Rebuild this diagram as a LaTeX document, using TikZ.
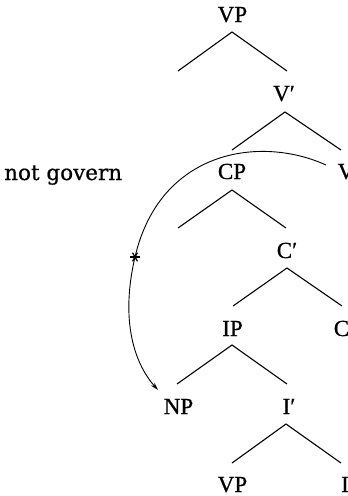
\documentclass[tikz,border=0pt]{standalone}
\usepackage{fontspec}
\setmainfont{Liberation Serif}
\newfontface\lblfont{Liberation Serif}[RawFeature={embolden=0.7}]
\newfontface\dvserif{DejaVu Serif}[RawFeature={embolden=0.6}]
\usetikzlibrary{arrows.meta,calc}
\tikzset{
  lbl/.style={inner sep=0pt, anchor=base, font=\lblfont\fontsize{23}{27}\selectfont},
  branch/.style={line width=1.1pt},
  govarc/.style={line width=0.9pt, -{Stealth[length=8pt,width=4.5pt]}},
  starline/.style={line width=1.2pt},
}
\begin{document}
\begin{tikzpicture}[x=1pt,y=-1pt]
\useasboundingbox (0,0) rectangle (348,496);
\clip (0,0) rectangle (348,496);
% labels
\node[lbl] (vp1) at (232.5,22) {VP};
\node[lbl] (vbar) at (284,101) {V′};
\node[lbl] (cp) at (232,179) {CP};
\node[lbl] (v) at (346,179) {V};
\node[lbl] (cbar) at (287,258) {C′};
\node[lbl] (ip) at (232.5,336) {IP};
\node[lbl] (c) at (341.5,336) {C};
\node[lbl] (np) at (178.5,414) {NP};
\node[lbl] (ibar) at (289,414) {I′};
\node[lbl] (vp2) at (232.5,492) {VP};
\node[lbl] (i) at (345,492) {I};
\node[inner sep=0pt, anchor=base west, font=\dvserif\fontsize{21.5}{24}\selectfont] (ng) at (4,180) {not govern};
% branch points
\coordinate (a1) at (232,32);
\coordinate (l1) at (178,71);
\coordinate (r1) at (287,71);
\coordinate (a2) at (285,112);
\coordinate (l2) at (232,150);
\coordinate (r2) at (341,150);
\coordinate (a3) at (232,190);
\coordinate (l3) at (178,228);
\coordinate (r3) at (286,228);
\coordinate (a4) at (287,268);
\coordinate (l4) at (233,306);
\coordinate (r4) at (342,306);
\coordinate (a5) at (232,345);
\coordinate (l5) at (177,384);
\coordinate (r5) at (287,384);
\coordinate (a6) at (286,424);
\coordinate (l6) at (232,463);
\coordinate (r6) at (341,463);
\foreach \k in {1,...,6}{
  \draw[branch] (l\k) -- (a\k) -- (r\k);
}
% government arc
\coordinate (arcstart) at (326,165);
\coordinate (arcstar) at (135,257);
\coordinate (arcend) at (158,390);
\draw[govarc] (arcstart) .. controls (260,135) and (160,150) .. (arcstar)
  .. controls (118,330) and (140,370) .. (arcend);
% asterisk mark on the arc
\foreach \ang in {0,60,120}{
  \draw[starline] ($(arcstar)+(\ang:5)$) -- ($(arcstar)+(\ang+180:5)$);
}
\end{tikzpicture}
\end{document}
